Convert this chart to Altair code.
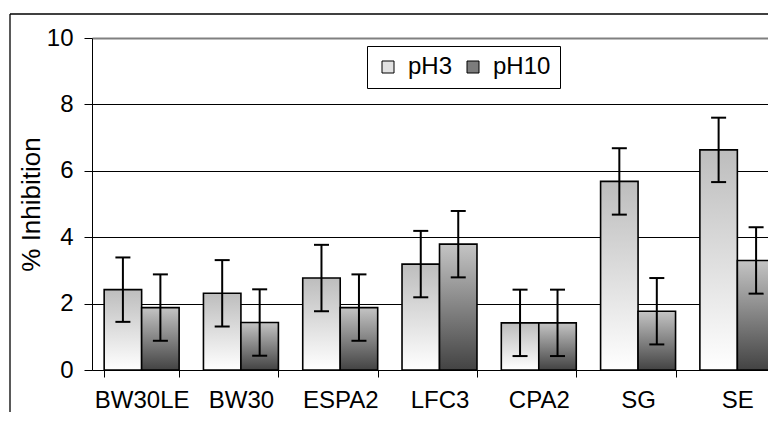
import altair as alt
import pandas as pd

categories = ["BW30LE", "BW30", "ESPA2", "LFC3", "CPA2", "SG", "SE"]
series = ["pH3", "pH10"]
ph3_values = [2.42, 2.31, 2.77, 3.19, 1.42, 5.68, 6.63]
ph10_values = [1.88, 1.43, 1.88, 3.79, 1.42, 1.77, 3.30]
ph3_errors = [0.97, 1.0, 1.0, 1.0, 1.0, 1.0, 0.97]
ph10_errors = [1.0, 1.0, 1.0, 1.0, 1.0, 1.0, 1.0]
y_ticks = [0, 2, 4, 6, 8, 10]

rows = []
for i, c in enumerate(categories):
    rows.append({"cat": c, "series": "pH3", "value": ph3_values[i], "err": ph3_errors[i]})
    rows.append({"cat": c, "series": "pH10", "value": ph10_values[i], "err": ph10_errors[i]})
df = pd.DataFrame(rows)
df["lo"] = df["value"] - df["err"]
df["hi"] = df["value"] + df["err"]

FONT = "Liberation Sans"

x_enc = alt.X(
    "cat:N",
    sort=categories,
    scale=alt.Scale(range=[0, 695], paddingInner=0.245, paddingOuter=0.1225),
    axis=alt.Axis(
        title=None, labelAngle=0, tickBand="extent", tickSize=7, labelPadding=11,
        labelFont=FONT, labelFontSize=24, labelColor="black",
        domainColor="black", tickColor="black", grid=False,
    ),
)
xo_enc = alt.XOffset("series:N", sort=series, scale=alt.Scale(paddingInner=0, paddingOuter=0))

y_axis = alt.Axis(
    title="% Inhibition", values=y_ticks, tickSize=8, labelPadding=11,
    labelFont=FONT, labelFontSize=24, labelColor="black",
    titleFont=FONT, titleFontSize=26, titleFontWeight="normal", titleColor="black",
    titlePadding=2, domainColor="black", tickColor="black", grid=True,
    gridColor={"condition": {"test": "datum.value === 10", "value": "#808080"}, "value": "#000000"},
    gridWidth={"condition": {"test": "datum.value === 10", "value": 2}, "value": 1},
)
y_scale = alt.Scale(domain=[0, 10], nice=False)

base = alt.Chart(df)

grad3 = alt.Gradient(
    gradient="linear", x1=0, x2=0, y1=0, y2=1,
    stops=[alt.GradientStop(color="#bdbdbd", offset=0), alt.GradientStop(color="#ffffff", offset=1)],
)
grad10 = alt.Gradient(
    gradient="linear", x1=0, x2=0, y1=0, y2=1,
    stops=[alt.GradientStop(color="#c4c4c4", offset=0), alt.GradientStop(color="#434343", offset=1)],
)

bars3 = base.transform_filter(alt.datum.series == "pH3").mark_bar(
    fill=grad3, stroke="black", strokeWidth=1.6
).encode(x=x_enc, xOffset=xo_enc, y=alt.Y("value:Q", scale=y_scale, axis=y_axis))

bars10 = base.transform_filter(alt.datum.series == "pH10").mark_bar(
    fill=grad10, stroke="black", strokeWidth=1.6
).encode(x=x_enc, xOffset=xo_enc, y=alt.Y("value:Q", scale=y_scale, axis=y_axis))

rules = base.mark_rule(color="black", strokeWidth=2).encode(
    x=x_enc, xOffset=xo_enc, y=alt.Y("lo:Q", scale=y_scale, axis=y_axis), y2="hi:Q"
)
caps_hi = base.mark_tick(color="black", thickness=2, size=15, opacity=1).encode(
    x=x_enc, xOffset=xo_enc, y=alt.Y("hi:Q", scale=y_scale, axis=y_axis)
)
caps_lo = base.mark_tick(color="black", thickness=2, size=15, opacity=1).encode(
    x=x_enc, xOffset=xo_enc, y=alt.Y("lo:Q", scale=y_scale, axis=y_axis)
)

legend_layer = base.mark_square(size=0, opacity=1).encode(
    x=x_enc, xOffset=xo_enc, y=alt.Y("value:Q", scale=y_scale, axis=y_axis),
    color=alt.Color(
        "series:N", sort=series,
        scale=alt.Scale(domain=series, range=["#e2e2e2", "#7c7c7c"]),
        legend=alt.Legend(
            title=None, orient="none", legendX=275, legendY=8, direction="horizontal",
            symbolType="square", symbolSize=144, symbolStrokeColor="black", symbolStrokeWidth=1,
            symbolOpacity=1,
            labelFont=FONT, labelFontSize=24, labelColor="black", labelOffset=8,
            columnPadding=8, padding=9, strokeColor="black", fillColor="white",
        ),
    ),
)

one = pd.DataFrame({"k": [0]})
border_left = alt.Chart(one).mark_rule(color="black", strokeWidth=1.3, clip=False).encode(
    x=alt.value(-82), y=alt.value(-24), y2=alt.value(500)
)
border_top = alt.Chart(one).mark_rule(color="black", strokeWidth=1.3, clip=False).encode(
    x=alt.value(-82), x2=alt.value(800), y=alt.value(-24)
)

chart = alt.layer(border_left, border_top, bars3, bars10, rules, caps_hi, caps_lo, legend_layer).properties(
    width=676, height=332,
    autosize=alt.AutoSizeParams(type="none"),
    padding={"left": 84, "top": 30, "right": 0, "bottom": 42},
    background="white",
).configure_view(stroke="transparent")

chart.save("out.html", embed_options={"renderer": "svg", "actions": False})
